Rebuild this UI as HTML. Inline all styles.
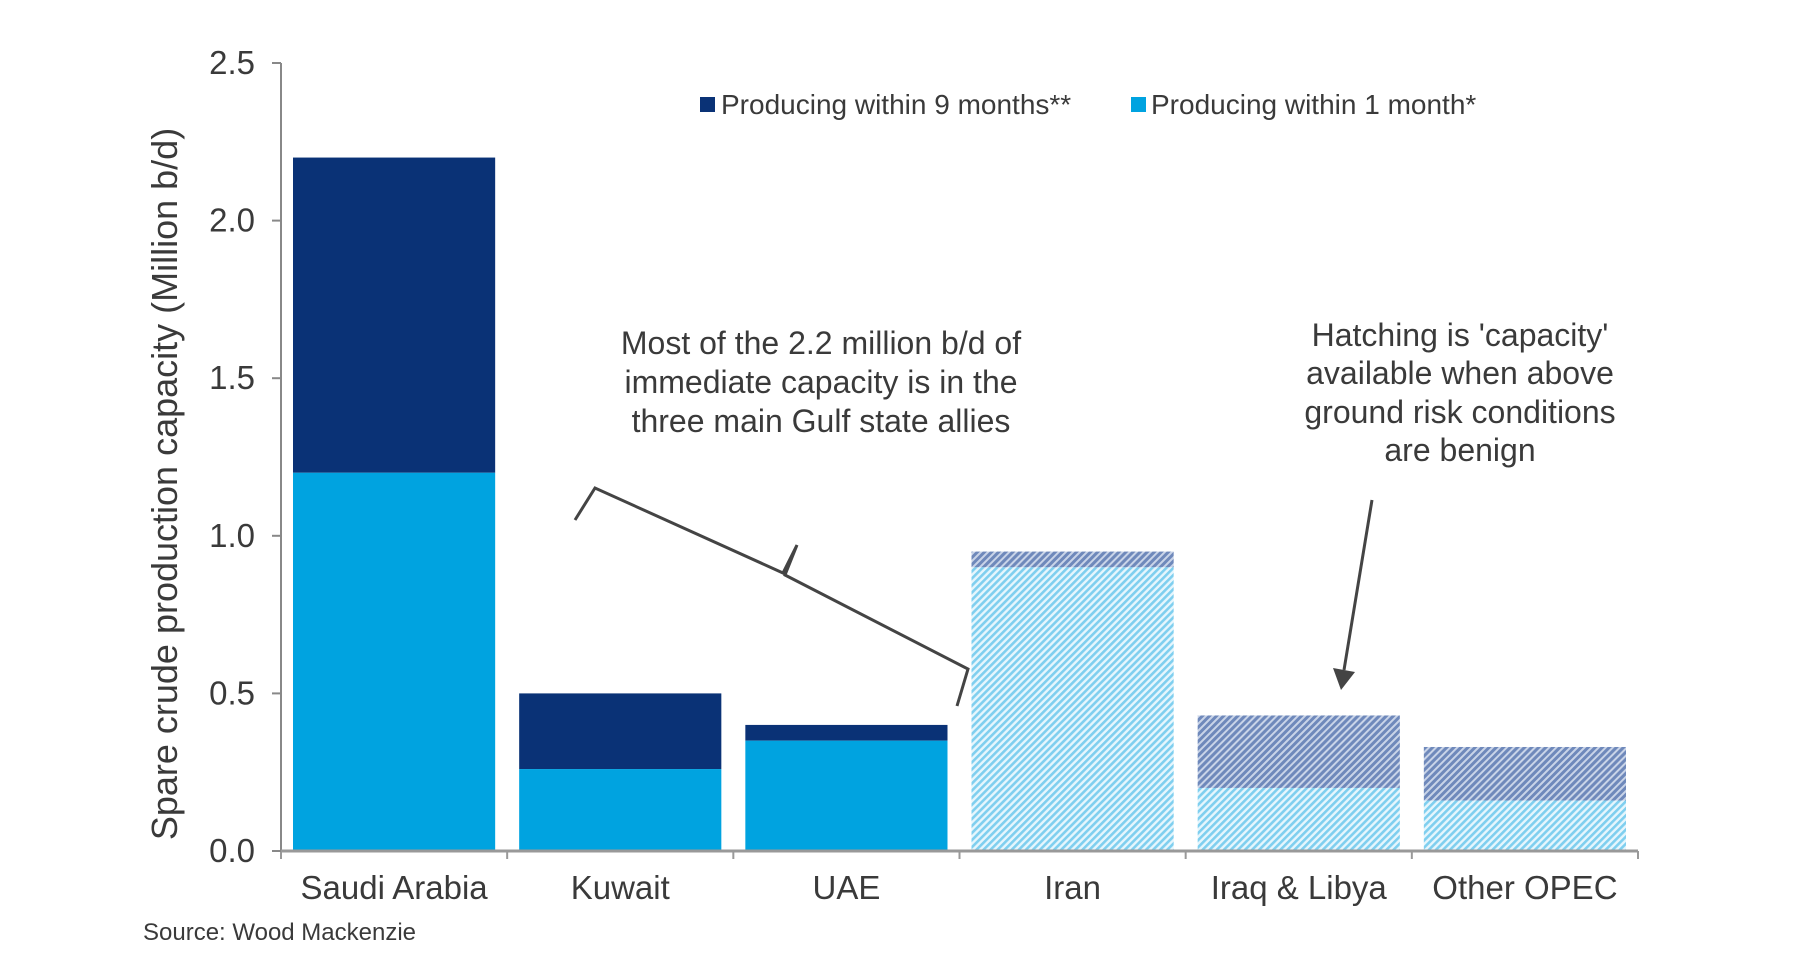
<!DOCTYPE html>
<html><head><meta charset="utf-8"><style>
html,body{margin:0;padding:0;background:#fff;}
svg text{font-family:"Liberation Sans",sans-serif;fill:#3a3a3a;}
</style></head><body>
<svg id="chart" width="1800" height="964" xmlns="http://www.w3.org/2000/svg">
<defs>
<pattern id="hatchLight" width="5" height="5" patternUnits="userSpaceOnUse" patternTransform="rotate(-45)">
<rect width="5" height="5" fill="#e6f6fd"/><rect width="5" height="2.6" fill="#7fcfef"/></pattern>
<pattern id="hatchDark" width="5" height="5" patternUnits="userSpaceOnUse" patternTransform="rotate(-45)">
<rect width="5" height="5" fill="#c9d4e8"/><rect width="5" height="3" fill="#6f89bb"/></pattern>
</defs>
<g id="bars"></g>
<g id="axes"></g>
<g>
<rect x="700" y="97" width="15" height="15" fill="#0a3276"/>
<text x="721" y="114" font-size="28">Producing within 9 months**</text>
<rect x="1131" y="97" width="15" height="15" fill="#00a3e0"/>
<text x="1151" y="114" font-size="28">Producing within 1 month*</text>
</g>
<text transform="translate(177,484) rotate(-90)" text-anchor="middle" font-size="36">Spare crude production capacity (Million b/d)</text>
<g font-size="32" text-anchor="middle">
<text x="821" y="354">Most of the 2.2 million b/d of</text>
<text x="821" y="393">immediate capacity is in the</text>
<text x="821" y="432">three main Gulf state allies</text>
</g>
<polyline points="575,520 595,488 783,573 797,545 785,575 968,669 957,706" fill="none" stroke="#444" stroke-width="3"/>
<g font-size="32" text-anchor="middle">
<text x="1460" y="346">Hatching is 'capacity'</text>
<text x="1460" y="384">available when above</text>
<text x="1460" y="423">ground risk conditions</text>
<text x="1460" y="461">are benign</text>
</g>
<line x1="1372" y1="500" x2="1344" y2="670" stroke="#444" stroke-width="3"/>
<polygon points="1333,668 1355,672 1341,690" fill="#444"/>
<text x="143" y="940" font-size="24">Source: Wood Mackenzie</text>
</svg>
<script>
const categories=["Saudi Arabia","Kuwait","UAE","Iran","Iraq & Libya","Other OPEC"];
const oneMonth=[1.2,0.26,0.35,0.9,0.2,0.16];
const nineMonthsTotal=[2.2,0.5,0.4,0.95,0.43,0.33];
const hatched=[false,false,false,true,true,true];
const yTicks=[0,0.5,1.0,1.5,2.0,2.5];
const X0=281,X1=1638,Y0=851,Ytop=63,YMAX=2.5;
const catW=(X1-X0)/categories.length;
const y=v=>Y0-(v/YMAX)*(Y0-Ytop);
const NS="http://www.w3.org/2000/svg";
function mk(t,a,p){const e=document.createElementNS(NS,t);for(const k in a)e.setAttribute(k,a[k]);p.appendChild(e);return e;}
const bars=document.getElementById('bars'),axes=document.getElementById('axes');
categories.forEach((c,i)=>{
  const bx=X0+i*catW+12,bw=catW-24;
  const top=mk('rect',{x:bx,y:y(nineMonthsTotal[i]),width:bw,height:y(oneMonth[i])-y(nineMonthsTotal[i]),fill:hatched[i]?'url(#hatchDark)':'#0a3276'},bars);
  
  
  const bot=mk('rect',{x:bx,y:y(oneMonth[i]),width:bw,height:Y0-y(oneMonth[i]),fill:hatched[i]?'url(#hatchLight)':'#00a3e0'},bars);
  
  
  const t=mk('text',{x:X0+(i+0.5)*catW,y:Y0+48,'text-anchor':'middle','font-size':33},axes);
  t.textContent=c;
  
  
});
const ya=mk('line',{x1:X0,y1:Ytop,x2:X0,y2:Y0,stroke:'#888','stroke-width':2},axes);


const xa=mk('line',{x1:X0,y1:Y0,x2:X1,y2:Y0,stroke:'#999','stroke-width':3},axes);


for(let i=0;i<=categories.length;i++){mk('line',{x1:X0+i*catW,y1:Y0,x2:X0+i*catW,y2:Y0+8,stroke:'#999','stroke-width':2},axes);}
yTicks.forEach(v=>{
  mk('line',{x1:X0-9,y1:y(v),x2:X0,y2:y(v),stroke:'#888','stroke-width':2},axes);
  const t=mk('text',{x:X0-26,y:y(v)+11,'text-anchor':'end','font-size':33},axes);
  t.textContent=v.toFixed(1);
  
  
});
</script>
</body></html>
